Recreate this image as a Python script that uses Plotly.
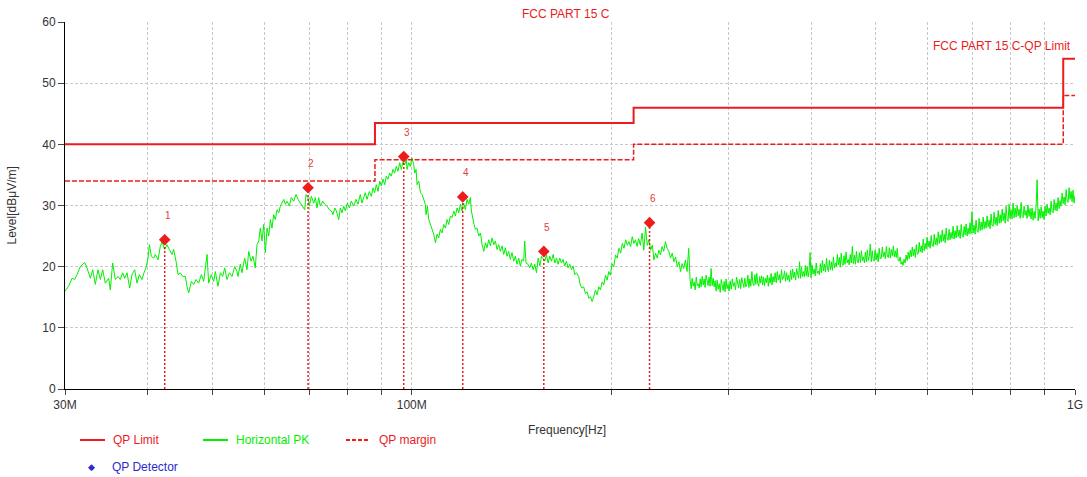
import math
import plotly.graph_objects as go

# ---- Horizontal PK sweep: (frequency in MHz, level in dBuV/m) ----
pk_30_55 = [
    (30.00, 16.0), (30.38, 16.8), (30.74, 18.1), (31.02, 17.9), (31.28, 18.7),
    (31.64, 20.0), (32.12, 20.7), (32.38, 19.8), (32.76, 18.1), (33.03, 19.5),
    (33.33, 17.1), (33.64, 19.5), (33.92, 17.9), (34.19, 19.5), (34.51, 17.3),
    (34.91, 18.1), (35.11, 16.2), (35.40, 20.6), (35.73, 17.9), (36.06, 18.4),
    (36.35, 17.9), (36.65, 19.0), (36.91, 18.1), (37.21, 19.0), (37.55, 16.5),
    (37.86, 18.7), (38.21, 19.5), (38.52, 17.3), (38.83, 18.7), (39.19, 17.9),
    (39.47, 19.0), (39.74, 19.8), (40.02, 21.4), (40.21, 23.6), (40.49, 21.7),
    (40.82, 21.4), (41.05, 22.0), (41.43, 21.1), (41.77, 23.3), (42.01, 24.1),
    (42.40, 22.8), (42.75, 23.6), (43.10, 22.8), (43.50, 22.0), (43.75, 22.8),
    (44.11, 20.9), (44.41, 18.7), (44.78, 19.0), (45.14, 18.4), (45.56, 18.4),
    (45.82, 16.8), (46.09, 15.7), (46.52, 17.6), (46.90, 17.1), (47.28, 17.9),
    (47.72, 17.3), (48.16, 18.7), (48.56, 17.6), (48.84, 19.8), (49.12, 22.0),
    (49.40, 17.3), (49.86, 18.7), (50.27, 17.6), (50.56, 19.2), (51.03, 16.8),
    (51.45, 19.0), (51.87, 18.4), (52.23, 19.8), (52.65, 17.9), (53.08, 19.0),
    (53.57, 18.4), (54.07, 20.0), (54.51, 19.2),
]

pk_55_98 = [
    (54.70, 18.4), (55.14, 20.4), (55.46, 19.0), (55.98, 21.4), (56.44, 19.5),
    (56.77, 22.5), (57.23, 20.9), (57.62, 21.7), (58.08, 19.8), (58.43, 23.6),
    (58.78, 24.2), (59.11, 26.3), (59.46, 24.2), (59.81, 26.9), (60.15, 22.3),
    (60.50, 26.3), (60.86, 25.0), (61.20, 27.7), (61.55, 26.3), (61.91, 28.5),
    (62.26, 27.7), (62.64, 29.3), (63.01, 28.8), (63.36, 29.9), (63.74, 30.4),
    (64.11, 31.0), (64.47, 30.2), (64.86, 30.7), (65.37, 29.9), (65.82, 31.3),
    (66.37, 30.7), (66.91, 31.8), (67.37, 31.0), (67.91, 30.4), (68.48, 29.9),
    (68.96, 29.3), (69.28, 31.8), (69.76, 31.3), (70.07, 29.9), (70.56, 31.5),
    (71.15, 30.4), (71.54, 31.3), (71.95, 29.6), (72.38, 31.3), (72.79, 29.9),
    (73.41, 30.7), (73.92, 30.2), (74.52, 29.9), (75.12, 29.3), (75.64, 29.1),
    (76.08, 28.5), (76.53, 29.6), (76.96, 29.1), (77.60, 27.7), (78.03, 29.6),
    (78.49, 28.8), (78.96, 29.9), (79.40, 29.1), (79.95, 30.4), (80.51, 29.6),
    (81.07, 30.7), (81.75, 29.9), (82.40, 31.0), (82.97, 30.2), (83.63, 31.8),
    (84.12, 30.4), (84.63, 31.3), (85.11, 32.1), (85.61, 31.0), (86.30, 32.3),
    (86.90, 31.5), (87.41, 32.9), (87.91, 32.1), (88.41, 33.4), (88.94, 32.3),
    (89.47, 34.0), (89.97, 33.2), (90.50, 34.3), (91.03, 33.4), (91.53, 34.8),
    (92.06, 34.3), (92.61, 35.3), (93.13, 34.8), (93.68, 35.9), (94.23, 35.3),
    (94.77, 36.4), (95.33, 35.6), (95.90, 37.0), (96.44, 35.9), (97.02, 37.2),
    (97.59, 36.7), (98.14, 37.5),
]

pk_98_178 = [
    (98.37, 35.9), (98.94, 37.0), (99.50, 36.4), (100.07, 37.8), (100.67, 36.7),
    (101.02, 35.3), (101.50, 35.9), (101.86, 33.4), (102.45, 34.0), (103.05, 32.1),
    (103.64, 31.8), (104.24, 31.0), (104.83, 30.2), (105.07, 28.5), (105.57, 29.9),
    (106.07, 27.7), (106.69, 26.9), (107.31, 26.1), (107.94, 25.3), (108.56, 23.9),
    (109.18, 25.3), (109.80, 24.7), (110.44, 26.1), (111.09, 25.5), (111.74, 26.9),
    (112.39, 26.3), (113.04, 27.7), (113.69, 26.9), (114.35, 28.3), (115.00, 28.0),
    (115.68, 29.1), (116.36, 28.3), (117.04, 29.6), (117.71, 28.8), (118.39, 30.2),
    (119.06, 29.1), (119.74, 30.4), (120.44, 29.3), (121.15, 31.0), (121.87, 30.2),
    (122.57, 31.3), (123.00, 29.1), (123.57, 27.7), (124.14, 26.9), (124.71, 26.1),
    (125.44, 26.3), (126.18, 25.0), (126.92, 25.5), (127.65, 23.6), (128.39, 22.5),
    (129.13, 23.9), (129.87, 23.1), (130.63, 24.4), (131.39, 23.4), (132.16, 24.7),
    (132.92, 23.6), (133.68, 24.2), (134.45, 22.8), (135.22, 23.6), (136.01, 22.5),
    (136.81, 23.4), (137.60, 22.0), (138.40, 23.1), (139.19, 21.7), (139.99, 22.5),
    (140.81, 21.2), (141.63, 22.3), (142.46, 20.9), (143.28, 21.7), (144.11, 20.4),
    (144.94, 21.4), (145.78, 20.1), (146.63, 21.2), (147.48, 20.9), (147.99, 24.2),
    (148.67, 20.6), (149.69, 20.4), (150.58, 19.8), (151.47, 20.6), (152.38, 19.5),
    (153.28, 20.4), (154.17, 19.0), (155.08, 21.4), (155.98, 20.1), (156.88, 21.7),
    (157.78, 21.2), (158.68, 20.9), (159.58, 22.0), (160.51, 20.6), (161.47, 21.7),
    (162.42, 20.9), (163.37, 22.0), (164.32, 20.6), (165.27, 21.4), (166.22, 20.4),
    (167.17, 21.4), (168.13, 20.6), (169.09, 21.2), (170.04, 20.1), (171.05, 20.9),
    (172.06, 19.8), (173.07, 20.4), (174.08, 19.5), (175.09, 20.1), (176.10, 18.7),
    (177.11, 19.0),
]

pk_178_262 = [
    (178.52, 18.4), (179.53, 17.0), (180.58, 16.5), (181.66, 16.7), (182.73, 15.6),
    (183.81, 15.9), (184.88, 14.8), (185.96, 15.1), (187.03, 14.3), (188.11, 15.1),
    (189.18, 16.2), (190.27, 15.4), (191.40, 16.7), (192.52, 16.2), (193.65, 17.5),
    (194.78, 17.0), (195.90, 18.6), (197.03, 17.8), (198.15, 19.2), (199.28, 18.6),
    (200.44, 20.5), (201.65, 20.0), (202.86, 21.9), (204.07, 21.4), (205.29, 23.0),
    (206.50, 22.2), (207.71, 23.8), (208.92, 23.0), (210.13, 24.4), (211.35, 23.5),
    (212.56, 24.1), (213.77, 23.3), (214.98, 24.9), (216.20, 23.8), (217.41, 24.4),
    (218.62, 23.3), (219.83, 24.6), (221.14, 23.5), (222.48, 25.5), (223.82, 22.7),
    (225.14, 26.5), (226.48, 23.5), (227.82, 24.4), (229.14, 22.7), (230.48, 23.5),
    (231.82, 21.1), (233.14, 22.2), (234.48, 21.4), (235.82, 22.7), (237.14, 21.9),
    (238.48, 23.3), (239.82, 22.5), (241.24, 24.1), (242.68, 23.0), (244.13, 22.5),
    (245.57, 21.4), (247.02, 22.2), (248.46, 20.8), (249.90, 21.6), (251.34, 20.0),
    (252.79, 20.8), (254.23, 19.2), (255.68, 20.5), (257.12, 19.7), (258.55, 21.1),
    (260.00, 19.2), (261.57, 23.0),
]

# dense upper part of the sweep (262.8 MHz .. 1 GHz)
pk_dense_freq = [
    262.8, 263.8, 264.7, 265.6, 266.6, 267.5, 268.5, 269.4, 270.3, 271.3, 272.2,
    273.1, 274.1, 275.0, 276.0, 276.9, 277.8, 278.8, 279.7, 280.7, 281.7, 282.7, 283.7, 284.7, 285.7, 286.7,
    287.7, 288.7, 289.7, 290.8, 291.8, 292.8, 293.8, 294.8, 295.8, 296.8, 297.8, 298.8, 299.8, 300.9, 302.0,
    303.2, 304.3, 305.4, 306.5, 307.7, 308.8, 309.9, 311.0, 312.2, 313.3, 314.4, 315.5, 316.7, 317.8, 318.9,
    320.0, 321.2, 322.3, 323.4, 324.5, 325.7, 326.8, 327.9, 329.1, 330.2, 331.3, 332.4, 333.6, 334.7, 335.8,
    336.9, 338.1, 339.2, 340.3, 341.4, 342.6, 343.7, 344.8, 345.9, 347.1, 348.2, 349.3, 350.5, 351.8, 353.1,
    354.4, 355.7, 357.0, 358.3, 359.6, 360.9, 362.2, 363.5, 364.8, 366.1, 367.4, 368.7, 370.0, 371.3, 372.6,
    373.9, 375.2, 376.5, 377.8, 379.1, 380.4, 381.7, 383.0, 384.3, 385.6, 386.9, 388.2, 389.5, 390.8, 392.1,
    393.4, 394.7, 396.0, 397.3, 398.6, 399.9, 401.3, 402.8, 404.3, 405.8, 407.2, 408.7, 410.2, 411.7, 413.1,
    414.6, 416.1, 417.6, 419.0, 420.5, 422.0, 423.5, 424.9, 426.4, 427.9, 429.4, 430.8, 432.3, 433.8, 435.3,
    436.7, 438.2, 439.7, 441.2, 442.6, 444.1, 445.6, 447.1, 448.5, 450.0, 451.7, 453.3, 455.0, 456.6, 458.3,
    459.9, 461.6, 463.2, 464.9, 466.5, 468.2, 469.8, 471.5, 473.1, 474.8, 476.4, 478.1, 479.7, 481.4, 483.0,
    484.7, 486.3, 488.0, 489.6, 491.3, 492.9, 494.6, 496.2, 497.9, 499.5, 501.3, 503.1, 504.9, 506.7, 508.5,
    510.4, 512.2, 514.0, 515.8, 517.6, 519.5, 521.3, 523.1, 524.9, 526.7, 528.5, 530.4, 532.2, 534.0, 535.8,
    537.6, 539.5, 541.3, 543.1, 544.9, 546.7, 548.5, 550.4, 552.4, 554.4, 556.4, 558.4, 560.4, 562.4, 564.4,
    566.4, 568.4, 570.4, 572.4, 574.4, 576.4, 578.4, 580.4, 582.4, 584.4, 586.4, 588.4, 590.4, 592.4, 594.4,
    596.4, 598.4, 600.4, 602.6, 604.8, 606.9, 609.1, 611.3, 613.4, 615.6, 617.8, 619.9, 622.1, 624.3, 626.4,
    628.6, 630.7, 632.9, 635.1, 637.2, 639.4, 641.6, 643.7, 645.9, 648.1, 650.2, 652.6, 654.9, 657.2, 659.6,
    661.9, 664.2, 666.6, 668.9, 671.3, 673.6, 675.9, 678.3, 680.6, 682.9, 685.3, 687.6, 689.9, 692.3, 694.6,
    697.0, 699.3, 701.8, 704.3, 706.8, 709.3, 711.9, 714.4, 716.9, 719.4, 722.0, 724.5, 727.0, 729.5, 732.1,
    734.6, 737.1, 739.6, 742.2, 744.7, 747.2, 749.7, 752.4, 755.1, 757.8, 760.5, 763.2, 765.9, 768.5, 771.2,
    773.9, 776.6, 779.3, 782.0, 784.7, 787.4, 790.1, 792.7, 795.4, 798.1, 800.9, 803.7, 806.6, 809.4, 812.3,
    815.1, 818.0, 820.9, 823.7, 826.6, 829.4, 832.3, 835.2, 838.0, 840.9, 843.7, 846.6, 849.4, 852.4, 855.5,
    858.5, 861.6, 864.6, 867.7, 870.7, 873.8, 876.8, 879.9, 882.9, 886.0, 889.0, 892.1, 895.1, 898.2, 901.3,
    904.5, 907.7, 910.9, 914.1, 917.3, 920.5, 923.7, 926.9, 930.1, 933.3, 936.5, 939.7, 942.9, 946.2, 949.4,
    952.7, 956.1, 959.5, 962.8, 966.2, 969.6, 973.0, 976.4, 979.7, 983.1, 986.5, 989.9, 993.2, 996.6, 1000.0,
]
pk_dense_level = [
    17.9, 16.4, 18.1, 16.8, 17.5, 16.2, 18.3, 16.9, 17.2, 16.5, 18.0,
    16.7, 18.4, 17.0, 18.0, 16.6, 18.6, 17.2, 16.9, 18.3, 16.8, 19.7, 16.9, 18.1, 16.7, 17.7,
    16.0, 17.8, 16.3, 17.2, 15.8, 17.9, 16.6, 16.1, 17.6, 15.9, 18.0, 16.4, 17.1, 16.0, 17.7,
    16.3, 18.0, 16.8, 17.4, 16.2, 18.3, 16.9, 16.5, 17.9, 16.4, 18.2, 17.0, 16.6, 18.1, 16.7,
    17.0, 18.6, 16.6, 18.0, 16.8, 19.2, 17.3, 16.9, 18.7, 17.1, 18.9, 17.2, 16.8, 18.4, 17.3,
    18.5, 17.0, 18.3, 16.9, 18.1, 17.4, 18.6, 16.8, 18.2, 17.3, 18.9, 17.0, 18.4, 17.5, 19.0,
    17.4, 19.2, 17.8, 18.7, 17.3, 19.5, 17.9, 18.2, 19.3, 17.6, 19.0, 17.8, 18.6, 17.5, 19.4,
    17.9, 19.6, 18.2, 19.1, 17.8, 19.7, 18.4, 18.1, 20.8, 18.1, 19.9, 18.4, 19.2, 18.3, 20.2,
    18.5, 20.0, 18.3, 19.4, 22.3, 18.2, 20.3, 18.8, 19.6, 18.5, 20.6, 18.9, 19.3, 18.7, 20.5,
    19.0, 21.0, 19.3, 20.4, 19.1, 21.4, 19.6, 19.2, 21.1, 19.5, 20.8, 19.4, 21.6, 19.8, 20.6,
    20.0, 22.0, 20.3, 21.5, 19.9, 22.2, 20.5, 20.2, 21.8, 20.4, 22.4, 20.6, 21.2, 20.3, 22.0,
    20.6, 23.3, 20.5, 21.9, 20.4, 22.5, 20.9, 20.6, 22.3, 20.7, 22.6, 21.0, 21.6, 20.6, 22.4,
    20.8, 22.7, 21.0, 21.7, 23.7, 20.8, 22.6, 21.2, 20.9, 22.7, 21.1, 22.2, 20.8, 23.0, 21.3,
    21.4, 23.2, 21.6, 22.4, 21.3, 23.3, 21.7, 21.5, 23.1, 21.4, 22.8, 21.8, 23.4, 21.6, 22.6,
    21.5, 23.0, 21.0, 20.9, 21.6, 20.4, 20.8, 20.2, 21.2, 20.6, 21.9, 21.0, 22.4, 21.3, 22.7,
    21.6, 23.2, 21.8, 22.9, 21.5, 23.6, 22.0, 22.2, 24.0, 22.4, 23.4, 22.3, 24.5, 22.6, 23.8,
    22.9, 24.8, 23.2, 24.2, 23.0, 25.1, 23.4, 23.3, 25.3, 23.6, 24.7, 23.5, 25.7, 23.8, 25.2,
    24.0, 26.0, 24.2, 25.3, 23.9, 26.3, 24.5, 24.3, 26.1, 24.4, 25.6, 24.6, 26.6, 24.5, 25.9,
    24.7, 26.7, 24.9, 26.0, 24.6, 26.9, 25.1, 24.8, 26.6, 25.2, 27.0, 25.0, 26.3, 25.3, 27.2,
    25.4, 29.0, 25.5, 26.8, 25.3, 27.6, 25.8, 25.6, 27.9, 25.9, 27.3, 26.0, 28.1, 26.2, 27.4,
    26.3, 28.3, 26.5, 27.6, 26.2, 28.6, 26.8, 26.6, 28.9, 26.9, 28.1, 26.7, 29.2, 27.1, 28.5,
    27.2, 29.4, 27.5, 28.8, 27.1, 29.9, 27.7, 27.4, 30.2, 27.9, 29.3, 27.8, 30.4, 28.0, 29.6,
    28.1, 30.0, 28.3, 29.4, 27.9, 30.5, 28.2, 28.0, 29.9, 28.4, 29.2, 27.9, 30.1, 28.2, 29.5,
    27.8, 29.6, 27.6, 29.0, 27.9, 30.0, 34.2, 27.5, 29.4, 27.9, 29.8, 28.0, 29.1, 27.7, 29.9,
    28.3, 30.2, 28.7, 29.6, 28.5, 30.7, 29.0, 28.8, 31.0, 29.2, 30.4, 29.1, 31.3, 29.5, 30.8,
    29.9, 32.0, 30.3, 31.4, 30.1, 32.6, 30.8, 30.5, 32.9, 31.0, 32.3, 30.6, 32.5, 30.4, 31.6,
]

# ---- QP detector readings ----
qp_freq = [42.41, 69.76, 97.25, 119.35, 158.15, 228.30]
qp_level = [24.4, 32.9, 38.0, 31.4, 22.5, 27.2]
qp_labels = ["1", "2", "3", "4", "5", "6"]

# ---- FCC Part 15 C quasi-peak limit and margin (step edges) ----
limit_freq = [30, 88, 216, 960, 1000]
limit_level = [40, 43.5, 46, 54, 54]
margin_level = [34, 37.5, 40, 48, 48]

# ---- axis ticks ----
x_tickvals = [30, 40, 50, 60, 70, 80, 90, 100, 200, 300, 400, 500, 600, 700, 800, 900, 1000]
x_ticktext = ["30M", "", "", "", "", "", "", "100M", "", "", "", "", "", "", "", "", "1G"]
y_tickvals = [0, 10, 20, 30, 40, 50, 60]

RED = "#ec1c1c"
GREEN = "#00f000"
BLUE = "#2a2ad0"
FONT = "Arial, Liberation Sans, sans-serif"

sweep = pk_30_55 + pk_55_98 + pk_98_178 + pk_178_262 + list(zip(pk_dense_freq, pk_dense_level))
pk_f = [p[0] for p in sweep]
pk_v = [p[1] for p in sweep]

fig = go.Figure()

fig.add_trace(go.Scatter(
    x=pk_f, y=pk_v, mode="lines",
    line=dict(color=GREEN, width=1), name="Horizontal PK",
))

fig.add_trace(go.Scatter(
    x=limit_freq, y=margin_level, mode="lines", line_shape="hv",
    line=dict(color=RED, width=1.5, dash="5px,2px"), name="QP margin",
))
fig.add_trace(go.Scatter(
    x=limit_freq, y=limit_level, mode="lines", line_shape="hv",
    line=dict(color=RED, width=2), name="QP Limit",
))

# dotted drop lines from each QP reading to the frequency axis
drop_x, drop_y = [], []
for f, v in zip(qp_freq, qp_level):
    drop_x += [f, f, None]
    drop_y += [0, v, None]
fig.add_trace(go.Scatter(
    x=drop_x, y=drop_y, mode="lines",
    line=dict(color=RED, width=1.5, dash="2px,2px"), hoverinfo="skip",
))

fig.add_trace(go.Scatter(
    x=qp_freq, y=qp_level, mode="markers",
    marker=dict(symbol="diamond", size=9, color=RED), name="QP Detector",
))


def note(x, y, text, color, size=12, xanchor="center", **kw):
    return dict(x=x, y=y, xref="paper", yref="paper", text=text, showarrow=False,
                xanchor=xanchor, yanchor="middle",
                font=dict(size=size, color=color, family=FONT), **kw)


annotations = []
for f, v, t in zip(qp_freq, qp_level, qp_labels):
    annotations.append(dict(
        x=math.log10(f), y=v, xref="x", yref="y", text=t, showarrow=False,
        xanchor="center", yanchor="middle",
        xshift=3, yshift=24, font=dict(size=10, color="#e04040", family=FONT),
    ))

annotations += [
    note(0.496, 1.0218, "FCC PART 15 C", RED),
    note(0.998, 0.9346, "FCC PART 15 C-QP Limit", RED, xanchor="right"),
    note(-0.0525, 0.5, "Level[dBμV/m]", "#333", size=12, textangle=-90),
    note(0.4975, -0.1117, "Frequency[Hz]", "#333"),
]

# legend, laid out in two rows under the axis
legend_row1 = -0.139
legend_row2 = -0.2125
shapes = [
    dict(type="line", xref="paper", yref="paper", x0=0.0149, x1=0.0396,
         y0=legend_row1, y1=legend_row1, line=dict(color=RED, width=2)),
    dict(type="line", xref="paper", yref="paper", x0=0.1366, x1=0.1614,
         y0=legend_row1, y1=legend_row1, line=dict(color=GREEN, width=2)),
    dict(type="line", xref="paper", yref="paper", x0=0.2782, x1=0.3020,
         y0=legend_row1, y1=legend_row1, line=dict(color=RED, width=2, dash="4px,2px")),
]
annotations += [
    note(0.0455, legend_row1, "QP Limit", RED, xanchor="left"),
    note(0.1673, legend_row1, "Horizontal PK", GREEN, xanchor="left"),
    note(0.3089, legend_row1, "QP margin", RED, xanchor="left"),
    note(0.0267, legend_row2, "◆", BLUE, size=9),
    note(0.0446, legend_row2, "QP Detector", BLUE, xanchor="left"),
]

fig.update_layout(
    width=1087, height=477,
    margin=dict(l=65, r=12, t=22, b=88),
    paper_bgcolor="white", plot_bgcolor="white",
    showlegend=False,
    font=dict(family=FONT, size=12, color="#333"),
    annotations=annotations,
    shapes=shapes,
    xaxis=dict(
        type="log", range=[math.log10(30), 3], automargin=False,
        tickvals=x_tickvals, ticktext=x_ticktext,
        ticks="outside", ticklen=5, tickcolor="#444",
        showline=True, linecolor="black", linewidth=1,
        showgrid=True, gridcolor="#c8c8c8", griddash="3px,2px", gridwidth=1,
        zeroline=False, tickfont=dict(size=12, color="#333"),
    ),
    yaxis=dict(
        range=[0, 60], tickvals=y_tickvals, automargin=False,
        ticks="outside", ticklen=6, tickcolor="#444",
        showline=True, linecolor="black", linewidth=1,
        showgrid=True, gridcolor="#c8c8c8", griddash="3px,2px", gridwidth=1,
        zeroline=False, tickfont=dict(size=12, color="#333"),
    ),
)

fig.write_html("out.html")
